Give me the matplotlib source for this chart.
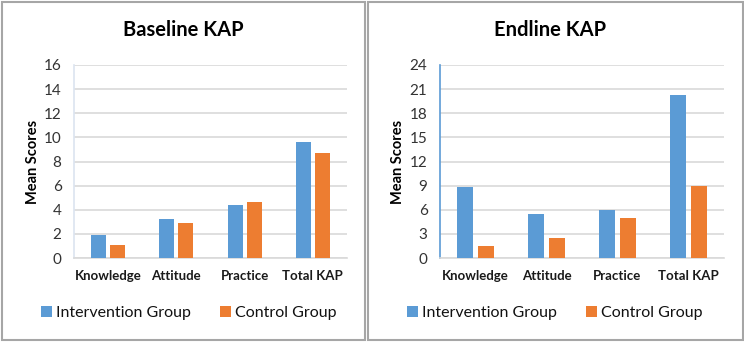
import matplotlib
matplotlib.use("Agg")
import matplotlib.pyplot as plt
from matplotlib.patches import Rectangle
import numpy as np

plt.rcParams['font.family'] = ['Lato', 'DejaVu Sans']

categories = ["Knowledge", "Attitude", "Practice", "Total KAP"]
series_names = ["Intervention Group", "Control Group"]
baseline_intervention = [1.93, 3.26, 4.36, 9.58]
baseline_control = [1.04, 2.92, 4.61, 8.67]
endline_intervention = [8.78, 5.42, 6.0, 20.27]
endline_control = [1.45, 2.49, 4.93, 8.91]
baseline_ticks = [0, 2, 4, 6, 8, 10, 12, 14, 16]
endline_ticks = [0, 3, 6, 9, 12, 15, 18, 21, 24]

BLUE = "#5B9BD5"
ORANGE = "#ED7D31"
W, H = 744, 342
fig = plt.figure(figsize=(W / 100, H / 100), dpi=100)

# panel frames
def px_rect(x0, y0, x1, y1, **kw):
    fig.patches.append(Rectangle((x0 / W, 1 - y1 / H), (x1 - x0) / W, (y1 - y0) / H,
                                 transform=fig.transFigure, fill=False, **kw))

px_rect(1.5, 1.5, 364.5, 340, edgecolor="#a6a6a6", linewidth=1.5)
px_rect(368, 1.5, 742.5, 340, edgecolor="#a6a6a6", linewidth=1.5)

def panel(rect, title, title_x, ylab_x, inter, ctrl, ticks, bw, off, spine_color, leg_x):
    ax = fig.add_axes(rect)
    x = np.arange(len(categories))
    b1 = ax.bar(x - off, inter, bw, color=BLUE, label=series_names[0], zorder=3)
    b2 = ax.bar(x + off, ctrl, bw, color=ORANGE, label=series_names[1], zorder=3)
    ax.set_xlim(-0.5, len(categories) - 0.5)
    ax.set_ylim(ticks[0], ticks[-1])
    ax.set_yticks(ticks)
    ax.set_yticklabels([str(t) for t in ticks], fontsize=11, color="#333333")
    ax.set_xticks(x)
    ax.set_xticklabels(categories, fontsize=9.5, fontweight="bold", color="#1a1a1a")
    ax.tick_params(axis="both", length=0)
    ax.tick_params(axis="y", pad=9)
    ax.tick_params(axis="x", pad=9)
    ax.grid(axis="y", color="#d9d9d9", linewidth=1.2, zorder=0)
    for s in ["top", "right"]:
        ax.spines[s].set_visible(False)
    ax.spines["bottom"].set_color("#d9d9d9")
    ax.spines["bottom"].set_linewidth(1.2)
    ax.spines["left"].set_color(spine_color)
    ax.spines["left"].set_linewidth(1.2)
    fig.text(title_x / W, 1 - 30 / H, title, fontsize=14.5, fontweight="bold",
             ha="center", va="center", color="#000000")
    fig.text(ylab_x / W, 1 - 162 / H, "Mean Scores", fontsize=10.5, fontweight="bold",
             rotation=90, ha="center", va="center", color="#000000")
    fig.legend(handles=[b1, b2], loc="center", bbox_to_anchor=(leg_x / W, 1 - 313 / H),
               ncol=2, frameon=False, fontsize=11.5, handlelength=0.7, handleheight=0.7,
               handletextpad=0.25, columnspacing=1.8, labelcolor="#111111")
    return ax

panel([74 / W, 1 - 258 / H, 273 / W, 193 / H], "Baseline KAP", 183, 33,
      baseline_intervention, baseline_control, baseline_ticks, 0.22, 0.14, "#dce4f0", 189)
panel([440 / W, 1 - 258 / H, 284 / W, 193 / H], "Endline KAP", 550, 398,
      endline_intervention, endline_control, endline_ticks, 0.23, 0.146, "#5B9BD5", 555)

fig.savefig("out.png", dpi=100, facecolor="white")
